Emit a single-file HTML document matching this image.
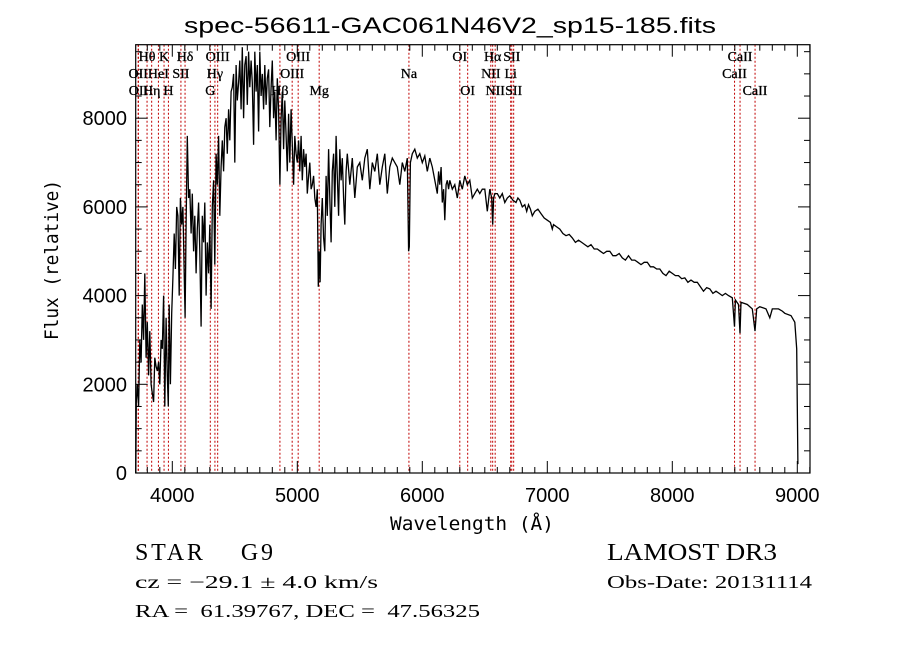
<!DOCTYPE html>
<html><head><meta charset="utf-8"><style>
html,body{margin:0;padding:0;background:#fff;}
svg{display:block;}
</style></head><body>
<svg id="chart" width="900" height="649" viewBox="0 0 900 649" xmlns="http://www.w3.org/2000/svg">
<rect x="0" y="0" width="900" height="649" fill="#fff"/>
<text x="184" y="33" font-family="Liberation Sans, sans-serif" font-size="22" textLength="532" lengthAdjust="spacingAndGlyphs">spec-56611-GAC061N46V2_sp15-185.fits</text>
<g id="lines"></g>
<g id="labels"></g>
<g id="spec"></g>
<g id="axes"></g>
<text transform="translate(58,260) rotate(-90)" text-anchor="middle" font-family="DejaVu Sans Mono, Liberation Mono, monospace" font-size="19" textLength="160" lengthAdjust="spacingAndGlyphs">Flux (relative)</text>
<text x="390" y="530" font-family="DejaVu Sans Mono, Liberation Mono, monospace" font-size="19" textLength="164" lengthAdjust="spacingAndGlyphs">Wavelength (Å)</text>
<text x="135" y="560" font-family="Liberation Serif, serif" font-size="24" textLength="138" lengthAdjust="spacing" xml:space="preserve">STAR    G9</text>
<text x="607" y="560" font-family="Liberation Serif, serif" font-size="24" textLength="170" lengthAdjust="spacingAndGlyphs">LAMOST DR3</text>
<text x="135" y="588" font-family="Liberation Serif, serif" font-size="18" textLength="243" lengthAdjust="spacingAndGlyphs">cz = −29.1 ± 4.0 km/s</text>
<text x="607" y="588" font-family="Liberation Serif, serif" font-size="18" textLength="205" lengthAdjust="spacingAndGlyphs">Obs-Date: 20131114</text>
<text x="135" y="617" font-family="Liberation Serif, serif" font-size="18" textLength="345" lengthAdjust="spacingAndGlyphs" xml:space="preserve">RA =  61.39767, DEC =  47.56325</text>
</svg>
<script>
const wavelengths = [3708,3712,3720,3730,3740,3750,3760,3770,3780,3790,3800,3810,3820,3830,3840,3850,3860,3870,3880,3890,3900,3910,3920,3930,3940,3950,3960,3968,3975,3985,3995,4005,4015,4025,4035,4045,4055,4065,4075,4085,4095,4102,4110,4120,4130,4140,4150,4160,4170,4180,4190,4200,4210,4220,4230,4240,4250,4260,4270,4280,4290,4300,4310,4320,4330,4340,4350,4360,4370,4380,4390,4400,4410,4420,4430,4440,4450,4460,4470,4480,4490,4500,4510,4520,4530,4540,4550,4560,4570,4580,4590,4600,4610,4620,4630,4640,4650,4660,4670,4680,4690,4700,4710,4720,4730,4740,4750,4760,4770,4780,4790,4800,4810,4820,4830,4840,4850,4861,4870,4880,4890,4900,4910,4920,4930,4940,4950,4960,4970,4980,4990,5000,5010,5020,5030,5040,5050,5060,5070,5080,5090,5100,5110,5120,5130,5140,5150,5160,5168,5175,5182,5190,5200,5210,5220,5230,5240,5250,5260,5270,5280,5290,5300,5310,5320,5330,5340,5350,5360,5370,5380,5390,5400,5420,5440,5460,5480,5500,5520,5540,5560,5580,5600,5620,5640,5660,5680,5700,5720,5740,5760,5780,5800,5820,5840,5860,5880,5890,5896,5905,5920,5940,5960,5980,6000,6020,6040,6060,6080,6100,6120,6130,6140,6150,6160,6170,6180,6190,6200,6210,6220,6240,6260,6280,6300,6320,6340,6360,6380,6400,6420,6440,6460,6480,6500,6520,6540,6555,6563,6570,6580,6600,6620,6640,6660,6680,
6700,6725,6750,6765,6780,6800,6820,6835,6850,6865,6880,6900,6925,6950,6975,7000,7025,7040,7050,7075,7100,7125,7150,7175,7200,7225,7250,7275,7300,7325,7350,7375,7400,7425,7450,7475,7500,7525,7550,7575,7600,7625,7650,7675,7700,7725,7750,7775,7800,7825,7850,7875,7900,7925,7950,7975,8000,8025,8050,8075,8100,8125,8150,8175,8200,8225,8250,8275,8300,8325,8350,8375,8400,8425,8450,
8480,8498,8505,8530,8542,8550,8600,8640,8662,8675,8700,8750,8780,8800,8850,8880,8900,8950,8980,8995,9000,9005];
const fluxes = [0,1600,2000,1500,3000,2500,3800,3000,4500,2600,3400,2200,3200,2000,1800,1600,2600,2400,2300,2500,2000,3000,2800,4000,1500,3500,2200,1500,3800,2000,3600,4400,5400,4600,6000,5800,4000,6200,5600,6000,4500,3500,5600,7600,6200,6400,5400,6300,5000,5800,4500,5500,6100,5000,3300,5800,5200,6100,4000,5200,4500,5600,3700,6000,6600,4700,7200,6500,7600,5800,6900,7500,6800,7800,8000,7200,8200,7500,8600,8700,9000,7000,9200,8400,8800,9300,8200,9600,8000,9200,9400,8300,9500,8700,9300,8800,7400,9500,8600,9200,7700,9500,8500,9000,8200,9200,8300,8900,9100,7800,8700,9300,8000,8600,7500,8900,8200,6500,8000,8600,7300,8400,7600,6800,8100,7000,8200,7400,6500,7600,7200,7000,7500,6800,7600,6600,7300,6900,7200,6300,6700,7000,6400,6500,6700,6200,6000,6400,4200,5000,4300,5600,6200,5300,5000,6700,5800,7300,6200,5200,6800,7200,6000,7600,6700,5800,7300,6600,7100,6200,5600,6800,7200,6500,7100,6200,6900,7000,6600,7100,7300,6400,7000,6800,7200,6500,6900,7200,6300,6900,7100,7000,6900,6500,7000,6800,7100,5000,5100,7000,7200,7300,7100,7200,7000,7150,6800,7100,6900,6600,6300,6800,6500,6900,6100,6400,5700,6500,6600,6400,6600,6400,6500,6200,6600,6400,6700,6500,6600,6200,6300,6400,6300,6400,6400,5900,6400,6200,5600,6200,6300,6300,6200,6300,6100,6200,
6250,6150,6100,6200,6150,6000,6050,5900,6050,5950,5800,5900,5950,5850,5750,5700,5650,5500,5600,5550,5500,5400,5350,5380,5300,5200,5250,5200,5150,5100,5150,5050,5050,5000,4950,5000,5000,4900,4900,4950,4850,4800,4900,4800,4800,4750,4700,4750,4750,4650,4650,4600,4600,4500,4450,4550,4500,4450,4450,4380,4400,4300,4350,4300,4300,4200,4100,4180,4150,4050,4100,4050,4000,4050,4000,
3950,3300,3900,3800,3150,3850,3800,3700,3200,3700,3750,3700,3500,3700,3700,3650,3600,3550,3400,2800,1500,200];
const lineWaves = [3727,3729,3798,3835,3889,3934,3969,4069,4102,4304,4341,4363,4861,4959,5007,5175,5893,6300,6363,6548,6563,6583,6707,6716,6731,8498,8542,8662];
const labelNames = ["OII","OII","Hθ","Hη","HeI","K","H","SII","Hδ","G","Hγ","OIII","Hβ","OIII","OIII","Mg","Na","OI","OI","NII","Hα","NII","Li","SII","SII","CaII","CaII","CaII"];
const labelRows = [1,2,0,2,1,0,2,1,0,2,1,0,2,1,0,2,1,0,2,1,0,2,1,0,2,1,0,2];
const xTicks = [4000,5000,6000,7000,8000,9000];
const yTicks = [0,2000,4000,6000,8000];

const L=135.7,R=810,T=44.7,B=473;
const X0=4000,XPX0=172.3,XS=0.125;
const YS=0.04435;
const xs = w => XPX0 + (w - X0) * XS;
const ys = f => B - f * YS;
const NS="http://www.w3.org/2000/svg";
function mk(tag, attrs, parent){const e=document.createElementNS(NS,tag);for(const k in attrs)e.setAttribute(k,attrs[k]);parent.appendChild(e);return e;}

const gl=document.getElementById('lines');
lineWaves.forEach((w,i)=>{
  const ln=mk('line',{x1:xs(w),x2:xs(w),y1:T,y2:B,stroke:'#c00000','stroke-width':1,'stroke-dasharray':'2,2'},gl);
  
  
});
const glab=document.getElementById('labels');
const rowY=[61,78,95];
lineWaves.forEach((w,i)=>{
  const t=mk('text',{x:xs(w),y:rowY[labelRows[i]],'text-anchor':'middle','font-family':'Liberation Serif, serif','font-size':14,stroke:'#000','stroke-width':0.3},glab);
  t.textContent=labelNames[i];
  
  
});

const gs=document.getElementById('spec');
let d='';
wavelengths.forEach((w,i)=>{d+=(i?'L':'M')+xs(w).toFixed(1)+','+ys(fluxes[i]).toFixed(1);});
const p=mk('path',{d:d,fill:'none',stroke:'#000','stroke-width':1.3,'stroke-linejoin':'miter'},gs);



const ga=document.getElementById('axes');
const fr=mk('rect',{x:L,y:T,width:R-L,height:B-T,fill:'none',stroke:'#000','stroke-width':1.2},ga);


for(let w=3800;w<=9100;w+=100){
  const x=xs(w); if(x<L||x>R)continue;
  const major=(w%1000===0); const len=major?12:6;
  mk('line',{x1:x,x2:x,y1:B,y2:B-len,stroke:'#000','stroke-width':1},ga);
  mk('line',{x1:x,x2:x,y1:T,y2:T+len,stroke:'#000','stroke-width':1},ga);
}
for(let f=0;f<=9500;f+=500){
  const y=ys(f); if(y<T)continue;
  const major=(f%2000===0); const len=major?12:6;
  mk('line',{x1:L,x2:L+len,y1:y,y2:y,stroke:'#000','stroke-width':1},ga);
  mk('line',{x1:R,x2:R-len,y1:y,y2:y,stroke:'#000','stroke-width':1},ga);
}
xTicks.forEach(w=>{
  const t=mk('text',{x:xs(w),y:502,'text-anchor':'middle','font-family':'Liberation Sans, sans-serif','font-size':20},ga);
  t.textContent=w;
  
  
});
yTicks.forEach(f=>{
  const t=mk('text',{x:127,y:ys(f)+7,'text-anchor':'end','font-family':'Liberation Sans, sans-serif','font-size':20},ga);
  t.textContent=f;
  
  
});
</script>
</body></html>
